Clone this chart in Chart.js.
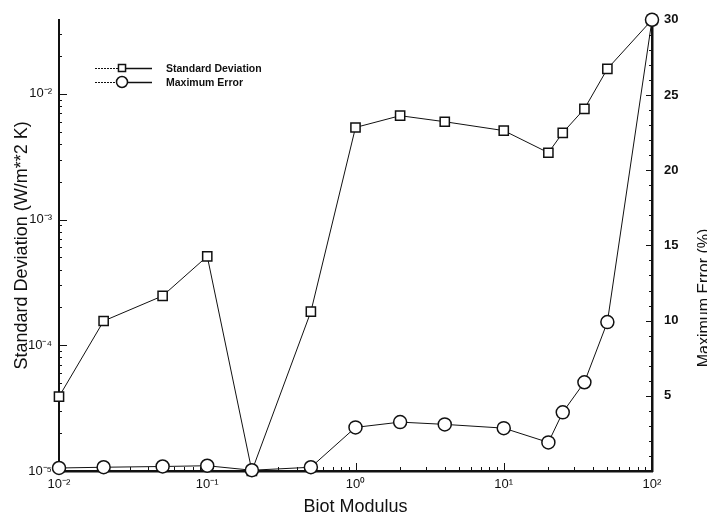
<!DOCTYPE html>
<html>
<head>
<meta charset="utf-8">
<script src="https://cdn.jsdelivr.net/npm/chart.js@4.4.1/dist/chart.umd.min.js"></script>
<style>
  body { margin: 0; background: #fff; }
  #wrap { width: 707px; height: 518px; }
</style>
</head>
<body>
<div id="wrap"><canvas id="biot-chart" width="707" height="518"></canvas></div>
<script>
// values
const biotModulus = [0.01, 0.02, 0.05, 0.1, 0.2, 0.5, 1, 2, 4, 10, 20, 25, 35, 50, 100];
const stdDeviation = [3.9e-5, 1.56e-4, 2.47e-4, 5.1e-4, 1e-5, 1.85e-4, 5.4e-3, 6.7e-3, 6.0e-3, 5.1e-3, 3.4e-3, 4.9e-3, 7.6e-3, 1.58e-2, 3.88e-2];
const maxError = [0.2, 0.25, 0.3, 0.35, 0.05, 0.25, 2.9, 3.25, 3.1, 2.85, 1.9, 3.9, 5.9, 9.9, 30];

const xTickValues = [0.01, 0.1, 1, 10, 100];
const xTickLabels = ["10\u207B\u00B2", "10\u207B\u00B9", "10\u2070", "10\u00B9", "10\u00B2"];
const sdTickValues = [1e-5, 1e-4, 1e-3, 1e-2];
const sdTickLabels = ["10\u207B\u2075", "10\u207B\u2074", "10\u207B\u00B3", "10\u207B\u00B2"];
const errTickLabels = [5, 10, 15, 20, 25, 30];

const ink = "#111";
const fam = "'Liberation Sans', Arial, sans-serif";

function labelFor(value, values, labels) {
  let idx = values.findIndex((v) => Math.abs(value - v) / v < 1e-6);
  return idx >= 0 ? labels[idx] : "";
}

function isDecadeStep(value) {
  let m = value / Math.pow(10, Math.floor(Math.log10(value) + 1e-9));
  return Math.abs(m - Math.round(m)) < 1e-6 ? Math.round(m) : 0;
}

//small tick marks pointing into the plot, like the original
const inwardTicks = {
  id: "inwardTicks",
  beforeDatasetsDraw(chart) {
    const { ctx, chartArea: area } = chart;
    ctx.save();
    ctx.strokeStyle = ink;
    ctx.lineWidth = 1;
    chart.scales.x.ticks.forEach((t) => {
      let m = isDecadeStep(t.value);
      if (!m) return;
      let px = Math.round(chart.scales.x.getPixelForValue(t.value)) + 0.5;
      ctx.beginPath();
      ctx.moveTo(px, area.bottom);
      ctx.lineTo(px, area.bottom - (m === 1 ? 8 : 4));
      ctx.stroke();
    });
    chart.scales.ySd.ticks.forEach((t) => {
      let m = isDecadeStep(t.value);
      if (!m) return;
      let py = Math.round(chart.scales.ySd.getPixelForValue(t.value)) + 0.5;
      ctx.beginPath();
      ctx.moveTo(area.left, py);
      ctx.lineTo(area.left + (m === 1 ? 8 : 3), py);
      ctx.stroke();
    });
    chart.scales.yErr.ticks.forEach((t) => {
      let py = Math.round(chart.scales.yErr.getPixelForValue(t.value)) + 0.5;
      ctx.beginPath();
      ctx.moveTo(area.right, py);
      ctx.lineTo(area.right - (t.value % 5 === 0 ? 6 : 3), py);
      ctx.stroke();
    });
    ctx.restore();
  },
};

//legend in the top left corner and the right axis title (reads bottom to top)
const extras = {
  id: "extras",
  afterDraw(chart) {
    const { ctx } = chart;
    const rows = [
      { text: "Standard Deviation", style: "rect", y: 68 },
      { text: "Maximum Error", style: "circle", y: 82 },
    ];
    ctx.save();
    rows.forEach((row) => {
      ctx.strokeStyle = ink;
      ctx.lineWidth = 1;
      ctx.setLineDash([2, 1]);
      ctx.beginPath();
      ctx.moveTo(95, row.y + 0.5);
      ctx.lineTo(118, row.y + 0.5);
      ctx.stroke();
      ctx.setLineDash([]);
      ctx.lineWidth = 1.5;
      ctx.beginPath();
      ctx.moveTo(126, row.y + 0.5);
      ctx.lineTo(152, row.y + 0.5);
      ctx.stroke();
      ctx.fillStyle = "#fff";
      Chart.helpers.drawPoint(ctx, { pointStyle: row.style, radius: row.style === "rect" ? 5 : 5.5, borderWidth: 1.5 }, 122, row.y);
      ctx.fillStyle = ink;
      ctx.font = "bold 10.5px 'Liberation Sans Narrow', " + fam;
      ctx.textAlign = "left";
      ctx.textBaseline = "middle";
      ctx.fillText(row.text, 166, row.y + 1);
    });
    ctx.translate(705, 298);
    ctx.rotate(-Math.PI / 2);
    ctx.font = "16px " + fam;
    ctx.textAlign = "center";
    ctx.textBaseline = "middle";
    ctx.fillStyle = ink;
    ctx.fillText("Maximum Error (%)", 0, 0);
    ctx.restore();
  },
};

const ctx = document.getElementById("biot-chart").getContext("2d");
const biotChart = new Chart(ctx, {
  type: "line",
  data: {
    datasets: [
      {
        label: "Maximum Error",
        data: biotModulus.map((b, i) => ({ x: b, y: maxError[i] })),
        yAxisID: "yErr",
        borderColor: ink,
        borderWidth: 1,
        pointStyle: "circle",
        pointRadius: 6.5,
        pointBorderWidth: 1.5,
        pointBackgroundColor: "#fff",
        pointBorderColor: ink,
        clip: false,
        order: 0,
      },
      {
        label: "Standard Deviation",
        data: biotModulus.map((b, i) => ({ x: b, y: stdDeviation[i] })),
        yAxisID: "ySd",
        borderColor: ink,
        borderWidth: 1,
        pointStyle: "rect",
        pointRadius: 6.5,
        pointBorderWidth: 1.5,
        pointBackgroundColor: "#fff",
        pointBorderColor: ink,
        clip: false,
        order: 1,
      },
    ],
  },
  options: {
    responsive: false,
    animation: false,
    layout: { padding: { top: 18, left: 0, right: 0, bottom: 0 } },
    plugins: {
      legend: { display: false },
      tooltip: { enabled: false },
    },
    scales: {
      x: {
        type: "logarithmic",
        position: "bottom",
        min: 0.01,
        max: 100,
        grid: { display: false, drawTicks: false },
        border: { display: true, color: ink, width: 2.5 },
        ticks: {
          autoSkip: false,
          maxRotation: 0,
          padding: 6,
          color: ink,
          font: { family: fam, size: 13 },
          callback: (v) => labelFor(v, xTickValues, xTickLabels),
        },
        title: {
          display: true,
          text: "Biot Modulus",
          color: ink,
          font: { family: fam, size: 18 },
          padding: { top: 0, bottom: 0 },
        },
        afterFit: (s) => { s.height = 47; },
      },
      ySd: {
        type: "logarithmic",
        position: "left",
        min: 1e-5,
        max: 0.0388,
        grid: { display: false, drawTicks: false },
        border: { display: true, color: ink, width: 2 },
        ticks: {
          autoSkip: false,
          padding: 7,
          color: ink,
          font: { family: fam, size: 13 },
          callback: (v) => labelFor(v, sdTickValues, sdTickLabels),
        },
        title: {
          display: true,
          text: "Standard Deviation (W/m**2 K)",
          color: ink,
          font: { family: fam, size: 18 },
          padding: { top: 11, bottom: 0 },
        },
        afterFit: (s) => { s.width = 59; },
      },
      yErr: {
        type: "linear",
        position: "right",
        min: 0,
        max: 30,
        grid: { display: false, drawTicks: false },
        border: { display: true, color: ink, width: 2.5 },
        ticks: {
          autoSkip: false,
          stepSize: 1,
          padding: 12,
          color: ink,
          font: { family: fam, size: 13, weight: "bold" },
          callback: (v) => (errTickLabels.includes(v) ? String(v) : ""),
        },
        afterFit: (s) => { s.width = 55; },
      },
    },
  },
  plugins: [inwardTicks, extras],
});
</script>
</body>
</html>
